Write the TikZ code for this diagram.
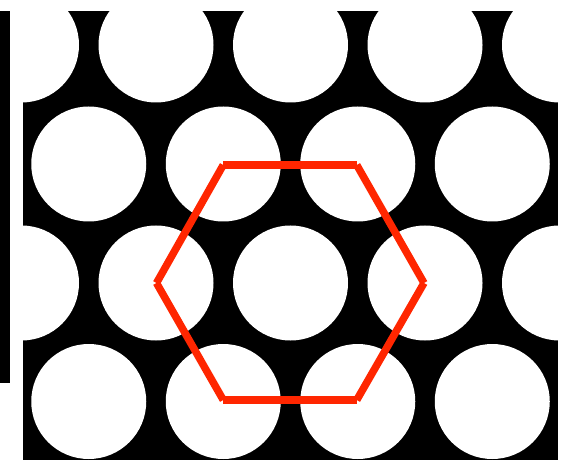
\documentclass[tikz,border=0pt]{standalone}
\begin{document}
\begin{tikzpicture}[x=1pt,y=-1pt,
  hole/.style={fill=white},
  hexedge/.style={draw=hexred,line width=7.5pt,line cap=butt}]
\definecolor{hexred}{RGB}{255,38,0}
\useasboundingbox (0,0) rectangle (567,462);
\fill[white] (0,0) rectangle (567,462);
% left bar
\fill[black] (0,11) rectangle (10,383);
% black plate
\fill[black] (22.5,11) rectangle (558,460);
\begin{scope}
  \clip (22.5,11) rectangle (558,460);
  \foreach \y in {45,283,520}{
    \foreach \x in {21.5,156,290.5,425,559.5}{
      \fill[hole] (\x,\y) circle (57.5);
    }
  }
  \foreach \y in {-74,164,401.5}{
    \foreach \x in {-45.75,88.75,223.25,357.75,492.25,626.75}{
      \fill[hole] (\x,\y) circle (57.5);
    }
  }
\end{scope}
% hexagon
\coordinate (h1) at (223.25,165);
\coordinate (h2) at (356.75,165);
\coordinate (h3) at (424,283);
\coordinate (h4) at (356.75,400);
\coordinate (h5) at (223.25,400);
\coordinate (h6) at (156.5,283);
\draw[hexedge] (h1) -- (h2);
\draw[hexedge] (h2) -- (h3);
\draw[hexedge] (h3) -- (h4);
\draw[hexedge] (h4) -- (h5);
\draw[hexedge] (h5) -- (h6);
\draw[hexedge] (h6) -- (h1);
\end{tikzpicture}
\end{document}
